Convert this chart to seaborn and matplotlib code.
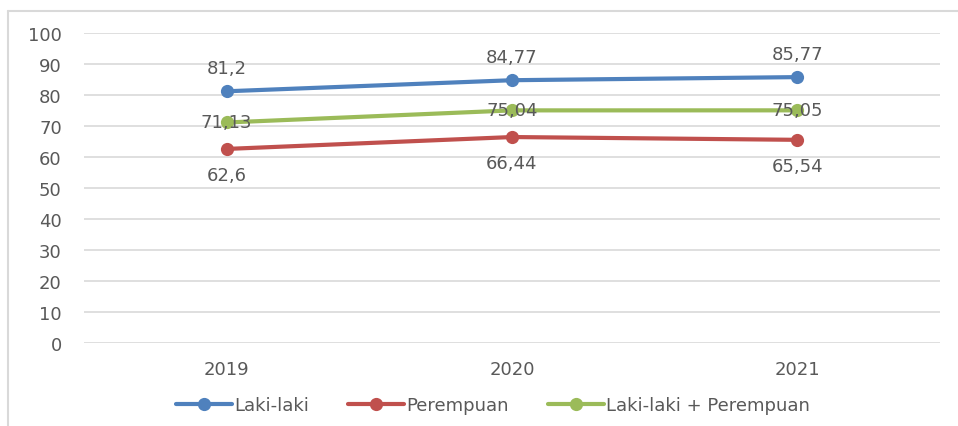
import pandas as pd
import seaborn as sns
import matplotlib.pyplot as plt
from matplotlib.lines import Line2D

# values
years = ["2019", "2020", "2021"]
laki = [81.2, 84.77, 85.77]
perempuan = [62.6, 66.44, 65.54]
total = [71.13, 75.04, 75.05]
series_names = ["Laki-laki", "Perempuan", "Laki-laki + Perempuan"]
y_ticks = [0, 10, 20, 30, 40, 50, 60, 70, 80, 90, 100]

colors = ["#4F81BD", "#C0504D", "#9BBB59"]
text_color = "#595959"
fs = 13

df = pd.DataFrame({
    "year": years * 3,
    "value": laki + perempuan + total,
    "series": [series_names[0]] * 3 + [series_names[1]] * 3 + [series_names[2]] * 3,
})

sns.set_theme(style="white")
plt.rcParams["font.family"] = ["DejaVu Sans"]

fig = plt.figure(figsize=(9.58, 4.27), dpi=100)
ax = fig.add_axes([84 / 958, 1 - 344 / 427, (940 - 84) / 958, (344 - 34) / 427])

sns.lineplot(data=df, x="year", y="value", hue="series", palette=colors,
             marker="o", markersize=9.5, markeredgewidth=0, linewidth=3,
             sort=False, legend=False, ax=ax)

ax.set_xlim(-0.5, 2.5)
ax.set_ylim(0, 100)
ax.set_yticks(y_ticks)
ax.grid(axis="y", color="#D9D9D9", linewidth=1.2)
ax.set_axisbelow(True)
for s in ax.spines.values():
    s.set_visible(False)
ax.set_xlabel("")
ax.set_ylabel("")
ax.tick_params(axis="both", length=0, labelsize=fs, labelcolor=text_color)
ax.tick_params(axis="y", pad=16)
ax.tick_params(axis="x", pad=12)

# data labels
def fmt(v):
    return ("%g" % v).replace(".", ",")

for i, v in enumerate(laki):
    ax.annotate(fmt(v), (i, v), xytext=(0, 17), textcoords="offset points",
                ha="center", va="center", fontsize=fs, color=text_color)
for i, v in enumerate(perempuan):
    ax.annotate(fmt(v), (i, v), xytext=(0, -19), textcoords="offset points",
                ha="center", va="center", fontsize=fs, color=text_color)
for i, v in enumerate(total):
    ax.annotate(fmt(v), (i, v), xytext=(0, 0), textcoords="offset points",
                ha="center", va="center", fontsize=fs, color=text_color)

handles = [Line2D([0], [0], color=c, linewidth=3, marker="o", markersize=9.5,
                  markeredgewidth=0) for c in colors]
fig.legend(handles, series_names, loc="center", bbox_to_anchor=(493 / 958, 1 - 406 / 427),
           ncol=3, frameon=False, fontsize=fs, labelcolor=text_color,
           handlelength=3.1, handletextpad=0.1, columnspacing=2.2)

# chart border (top and left visible in the crop)
fig.add_artist(Line2D([8 / 958, 1], [1 - 12 / 427, 1 - 12 / 427], color="#D9D9D9", linewidth=1.5))
fig.add_artist(Line2D([8 / 958, 8 / 958], [0, 1 - 12 / 427], color="#D9D9D9", linewidth=1.5))

fig.savefig("out.png", dpi=100)
